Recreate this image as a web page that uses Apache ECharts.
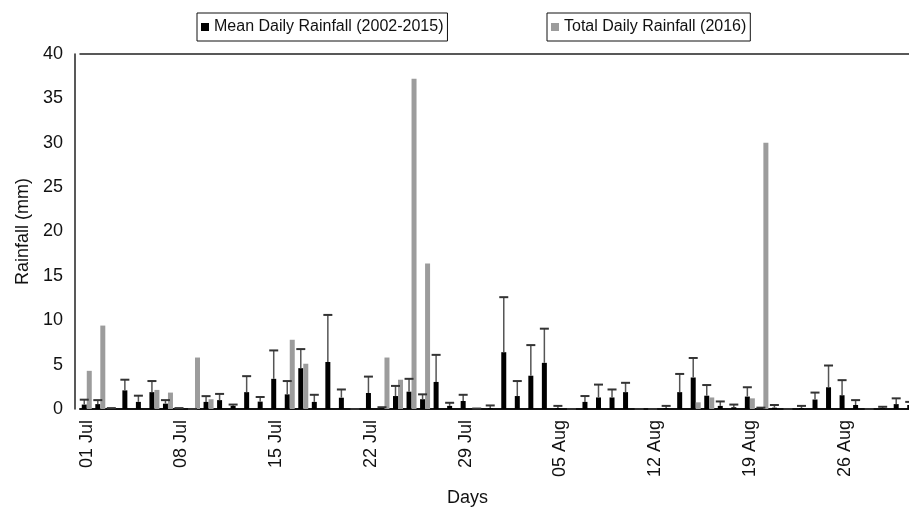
<!DOCTYPE html>
<html>
<head>
<meta charset="utf-8">
<script src="https://cdn.jsdelivr.net/npm/echarts@6/dist/echarts.min.js"></script>
<style>
  html, body { margin: 0; padding: 0; background: #fff; }
  #chart { width: 909px; height: 510px; }
</style>
</head>
<body>
<div id="chart"></div>
<script>
// days 01 Jul .. 31 Aug
const MONTHS = [['Jul', 31], ['Aug', 31]]
const days = []
MONTHS.forEach(([m, n]) => {
  for (let d = 1; d <= n; d += 1) days.push(String(d).padStart(2, '0') + ' ' + m)
})

// mean daily rainfall 2002-2015 (mm)
const meanRain = [
  0.5, 0.55, 0, 2.1, 0.8, 1.9, 0.6, 0, 0, 0.8,
  1.0, 0.35, 1.9, 0.83, 3.4, 1.65, 4.6, 0.8, 5.3, 1.27,
  0, 1.8, 0.1, 1.46, 1.95, 1.1, 3.05, 0.35, 0.9, 0,
  0.1, 6.4, 1.46, 3.75, 5.2, 0.1, 0, 0.8, 1.3, 1.3,
  1.9, 0, 0, 0.1, 1.9, 3.55, 1.5, 0.35, 0.2, 1.4,
  0.1, 0.15, 0, 0.1, 1.07, 2.45, 1.55, 0.45, 0, 0.1,
  0.55, 0.45
]
// top of the error bar (mean + sd)
const meanUpper = [
  1.05, 1.0, 0.1, 3.3, 1.5, 3.15, 1.0, 0.1, 0, 1.45,
  1.7, 0.5, 3.7, 1.35, 6.6, 3.15, 6.75, 1.6, 10.6, 2.2,
  0, 3.65, 0.2, 2.6, 3.4, 1.65, 6.1, 0.7, 1.6, 0.05,
  0.4, 12.6, 3.15, 7.2, 9.05, 0.35, 0, 1.46, 2.75, 2.2,
  2.95, 0, 0, 0.35, 3.95, 5.75, 2.7, 0.85, 0.5, 2.45,
  0.15, 0.45, 0, 0.35, 1.85, 4.9, 3.25, 1.0, 0, 0.25,
  1.2, 0.8
]
// total daily rainfall 2016 (mm)
const total2016 = [
  4.3, 9.4, 0, 0, 0, 2.15, 1.85, 0, 5.8, 1.1,
  0, 0, 0, 0, 0, 7.8, 5.1, 0, 0, 0,
  0, 0, 5.8, 3.3, 37.2, 16.4, 0, 0, 0, 0,
  0, 0, 0, 0, 0, 0, 0, 0, 0, 0,
  0, 0, 0, 0, 0, 0.75, 1.3, 0, 0, 1.2,
  30.0, 0, 0, 0, 0, 0, 0, 0, 0, 0,
  0, 0
]

const yTicks = { min: 0, max: 40, step: 5 }
const MEAN_NAME = 'Mean Daily Rainfall (2002-2015)'
const TOTAL_NAME = 'Total Daily Rainfall (2016)'

const FONT = "'Liberation Sans', Arial, sans-serif"
const BAR_W = 5

const chart = echarts.init(document.getElementById('chart'))

const errData = meanRain.map((v, i) => [i, v, meanUpper[i]])

const legendBase = {
  top: 13,
  orient: 'horizontal',
  icon: 'rect',
  itemWidth: 8,
  itemHeight: 8,
  padding: [6, 4, 6, 4],
  borderColor: '#111',
  borderWidth: 1,
  textStyle: { fontFamily: FONT, fontSize: 16, color: '#111' },
  selectedMode: false,
}

chart.setOption({
  animation: false,
  backgroundColor: '#fff',
  textStyle: { fontFamily: FONT },
  legend: [
    { ...legendBase, left: 197, data: [MEAN_NAME] },
    { ...legendBase, left: 547, data: [TOTAL_NAME] },
  ],
  grid: { left: 80, right: -10, top: 54, bottom: 101, containLabel: false, outerBoundsMode: 'none' },
  xAxis: [{
    type: 'category',
    data: days,
    name: 'Days',
    nameLocation: 'middle',
    nameGap: 80,
    nameTextStyle: { fontFamily: FONT, fontSize: 18, color: '#111', padding: [0, 64, 0, 0] },
    axisLine: { lineStyle: { color: '#111', width: 2 } },
    axisTick: { show: false },
    axisLabel: { interval: 6, rotate: 90, fontFamily: FONT, fontSize: 18, color: '#111', margin: 11 },
    splitLine: { show: false },
  }, {
    type: 'category',
    data: days,
    position: 'top',
    axisLine: { lineStyle: { color: '#222', width: 1.5 } },
    axisTick: { show: false },
    axisLabel: { show: false },
  }],
  yAxis: {
    type: 'value',
    min: yTicks.min,
    max: yTicks.max,
    interval: yTicks.step,
    offset: 5,
    name: 'Rainfall (mm)',
    nameLocation: 'middle',
    nameGap: 43,
    nameTextStyle: { fontFamily: FONT, fontSize: 18, color: '#111' },
    axisLine: { show: true, lineStyle: { color: '#222', width: 1.5 } },
    axisTick: { show: false },
    axisLabel: { fontFamily: FONT, fontSize: 18, color: '#111', margin: 12 },
    splitLine: { show: false },
  },
  series: [
    {
      name: MEAN_NAME,
      type: 'bar',
      data: meanRain,
      barWidth: BAR_W,
      barGap: '0%',
      itemStyle: { color: '#000' },
    },
    {
      name: TOTAL_NAME,
      type: 'bar',
      data: total2016,
      barWidth: BAR_W,
      itemStyle: { color: '#9c9c9c' },
    },
    {
      name: 'sd',
      type: 'custom',
      z: 5,
      data: errData,
      renderItem: (params, api) => {
        const i = api.value(0)
        const lo = api.coord([i, api.value(1)])
        const hi = api.coord([i, api.value(2)])
        const x = lo[0] - BAR_W / 2
        return {
          type: 'group',
          children: [
            { type: 'line', shape: { x1: x, y1: lo[1], x2: x, y2: hi[1] }, style: { stroke: '#555', lineWidth: 1.5 } },
            { type: 'line', shape: { x1: x - 4.5, y1: hi[1], x2: x + 4.5, y2: hi[1] }, style: { stroke: '#333', lineWidth: 2 } },
          ],
        }
      },
    },
  ],
})
</script>
</body>
</html>
